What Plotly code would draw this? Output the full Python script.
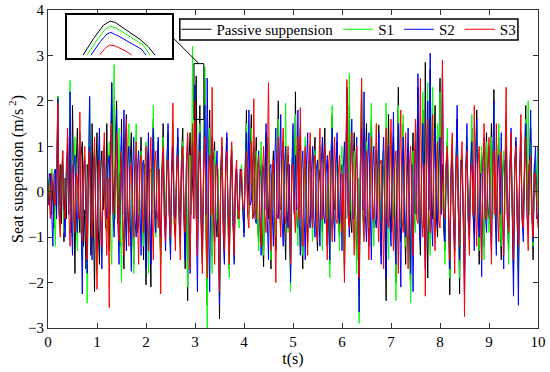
import plotly.graph_objects as go

DT = 0.025  # sampling step of the traces (s)

passive = [
    0.1, -0.3, 0.4, -0.5, 0.2, -0.8, 0.5, -0.4, 2.1, -0.3, 0.6, -0.7, 0.9, -1.1, 0.3, -0.6, 1.2, -0.2, 0.7, -0.9,
    1.9, -0.5, -1.8, 0.6, 1.4, -0.3, -0.9, 0.8, 1.1, -1.2, -0.4, -1.7, 0.6, 0.2, 1.0, -1.4, 1.5, -0.6, -2.2, 0.4,
    1.3, -0.8, -1.6, 0.5, 0.9, -0.4, 0.3, -0.8, 1.5, -0.6, -1.3, 0.7, 2.4, 0.3, -0.5, 1.1, 2.0, -0.7, 0.4, -1.2,
    1.6, -0.8, -1.7, 0.9, 1.7, -0.3, -0.9, 0.6, 1.3, -0.5, -1.6, 0.4, 0.8, -0.9, -0.7, 0.5, 1.2, -0.3, -1.5, 0.6,
    -2.05, 0.3, 0.9, -0.6, -2.1, 0.7, 1.6, -0.4, -0.6, 0.5, 1.1, -0.8, -1.4, 0.3, 1.5, -0.2, -0.8, 0.6, 1.3, -0.5,
    -1.2, 0.4, 0.7, -0.7, -1.0, 0.5, 1.2, -0.3, -0.5, 0.8, 1.4, -0.6, -1.7, 0.2, -2.4, 0.6, 1.3, -0.4, 0.2, 0.9,
    1.8, 2.55, -0.6, 0.4, 1.9, -0.8, -1.6, 0.3, 2.5, -0.9, -2.5, 0.6, 1.8, -0.5, -1.4, 0.7, 1.1, -0.6, -1.0, 0.4,
    -2.8, 0.2, 0.8, -0.9, -1.5, 0.4, 1.2, -0.8, -1.7, 0.3, 0.6, -0.7, -1.2, 0.2, 0.4, -0.6, -0.5, 0.5, 0.3, -0.4,
    -0.9, 0.6, 1.8, -0.3, 0.2, 0.9, 1.7, -0.6, -0.5, 0.4, 1.2, -0.7, -1.1, 0.3, 0.6, -0.9, -1.65, 0.5, 1.3, -0.2,
    -0.6, 0.4, -1.7, 0.3, 0.9, -0.5, -1.3, 0.6, 2.0, -0.3, -0.4, 0.8, 1.1, -0.6, -1.5, 0.3, 0.8, -0.7, -1.8, 0.5,
    0.9, -0.4, 2.2, -0.6, -0.8, 0.5, 1.4, -0.9, -1.7, 0.3, 0.7, -0.5, -1.1, 0.4, 1.0, -0.3, -0.6, 0.8, 1.2, -0.7,
    -1.3, 0.2, 0.5, -0.6, -0.9, 0.7, 1.4, -0.5, -1.2, 0.3, -1.6, 0.8, 1.7, -0.2, -0.4, 0.6, 1.1, -0.7, -1.0, 0.4,
    0.6, -0.5, -1.8, 0.4, 2.3, -0.3, 1.9, -0.6, -0.9, 0.5, 1.3, -0.4, -1.5, 0.3, -2.3, 0.6, 2.2, -0.5, -0.7, 0.6,
    1.5, -0.4, -1.2, 0.5, 1.6, -0.3, -0.8, 0.4, 0.9, -0.6, 1.47, -0.2, -1.4, 0.5, 0.6, -0.5, -2.4, 0.4, 1.7, -0.3,
    -0.9, 0.6, 1.2, -0.5, -2.0, 0.4, 2.3, -0.4, -1.1, 0.6, 1.5, -0.6, -1.6, 0.3, 0.8, -0.7, -2.2, 0.5, 1.3, -0.4,
    -0.5, 0.7, 2.3, -0.6, -1.4, 0.5, 1.8, -0.8, 2.85, -0.4, -1.9, 0.6, 2.7, -0.3, -0.6, 0.9, 1.9, -0.5, -1.0, 0.6,
    2.5, -0.3, 0.6, -0.8, -1.3, 0.4, 1.1, -0.6, -2.27, 0.3, 0.9, -0.5, -1.1, 0.6, 1.6, -0.4, -2.25, 0.7, 0.5, -0.6,
    -1.8, 0.4, 1.0, -0.3, -0.7, 0.5, 1.4, -0.5, -0.9, 0.6, 1.8, -0.4, -1.6, 0.3, 0.8, -0.6, -1.2, 0.5, 1.3, -0.3,
    -0.6, 0.4, 1.5, -0.5, 2.25, -0.4, -0.9, 0.6, 1.2, -0.5, -1.5, 0.3, 0.7, 0.4, 1.6, -0.6, -1.3, 0.5, 0.9, -0.4,
    -1.8, 0.5, 1.1, -0.6, -1.7, 0.4, 0.8, -0.5, -0.6, 0.7, 1.9, -0.2, 0.6, -0.5, 1.4, -0.4, -1.5, 0.6, 0.4, -0.3,
    1.0,
]

s1 = [
    0.0, 0.3, -0.2, 0.5, 0.4, -0.6, -1.2, 0.3, 2.1, -0.5, -0.3, 0.6, 0.5, -0.9, -0.8, 0.4, 0.7, -0.3, 2.45, -0.4,
    -1.0, 0.5, 1.2, -0.6, -1.3, 0.3, 0.9, -0.8, -1.5, 0.4, 0.8, -0.5, -2.45, 0.6, 2.05, -0.4, -1.1, 0.5, 1.0, -0.7,
    -1.8, 0.4, 1.2, -0.5, -1.4, 0.6, 0.6, -0.4, -0.9, 0.5, 1.1, -0.8, -1.6, 0.3, 2.8, -0.6, 0.5, -0.3, 1.4, -0.7,
    -2.0, 0.5, 1.2, -0.4, -1.1, 0.6, 1.5, -0.8, -1.3, 0.4, -1.8, 0.6, 1.5, -0.3, -0.5, 0.5, 0.9, -0.6, -1.2, 0.3,
    1.1, -0.6, -1.8, 0.4, 0.5, -0.5, 1.9, -0.7, -1.0, 0.4, 0.8, -0.5, -1.6, 0.6, 1.2, -0.3, -0.5, 0.6, 1.0, -0.4,
    -1.4, 0.5, 1.5, -0.6, -0.7, 0.4, 0.9, -0.5, -1.2, 0.6, 1.1, -0.4, -0.6, 0.5, -2.1, 0.4, 0.8, -0.5, 3.2, 0.6,
    2.3, -0.5, -1.1, 0.6, 1.5, -0.4, -0.9, 0.5, 2.75, -0.8, -3.0, 0.5, 1.4, -0.6, -1.8, 0.4, 0.9, -0.5, -0.6, 0.5,
    -2.4, 0.4, 1.1, -0.6, -1.2, 0.5, 0.8, -0.7, -1.9, 0.4, 1.0, -0.5, -1.5, 0.3, 0.3, -0.4, -0.8, 0.4, 0.6, -0.3,
    -0.5, 0.4, 1.5, -0.6, -0.4, 0.5, 1.4, -0.3, 0.3, -0.5, 0.9, -0.6, -1.3, 0.4, 1.1, -0.5, -1.4, 0.6, 0.7, -0.4,
    1.2, -0.5, -1.5, 0.4, 0.4, -0.6, -1.0, 0.5, 1.6, -0.4, -0.8, 0.6, 0.7, -0.5, 1.95, -0.3, -0.9, 0.5, -2.2, 0.4,
    1.3, -0.4, 1.7, -0.6, -1.2, 0.5, 0.9, -0.7, -1.4, 0.4, 1.2, -0.5, -0.7, 0.6, 0.6, -0.4, -1.1, 0.5, 0.9, -0.6,
    -0.9, 0.4, 1.0, -0.5, -1.3, 0.6, 0.8, -0.4, -0.6, 0.5, -1.9, 0.3, 1.9, -0.6, -0.8, 0.4, 0.7, -0.5, -1.3, 0.6,
    1.0, -0.5, -1.5, 0.4, 1.8, -0.6, 2.6, -0.4, -0.5, 0.6, 0.9, -0.5, -1.8, 0.3, -2.9, 0.5, 2.5, -0.6, -1.0, 0.4,
    1.1, -0.5, -0.8, 0.6, 1.95, -0.4, -1.2, 0.5, 0.6, -0.6, 1.1, -0.3, -1.0, 0.4, 0.9, -0.5, 1.95, -0.4, -1.5, 0.5,
    1.3, -0.4, -0.6, 0.5, -2.4, 0.3, 1.9, -0.6, -0.8, 0.5, 1.7, -0.4, -1.2, 0.6, 1.0, -0.5, -2.45, 0.4, 0.9, -0.6,
    -0.9, 0.5, 2.0, -0.4, -1.0, 0.6, 2.2, -0.5, -1.5, 0.3, 2.4, -0.6, -1.4, 0.5, 2.3, -0.4, -0.9, 0.6, 1.5, -0.5,
    2.2, -0.4, -0.4, 0.5, -1.6, 0.6, 1.4, -0.5, -1.9, 0.4, 1.2, -0.6, -1.4, 0.5, 1.3, -0.3, -1.9, 0.6, 0.8, -0.5,
    -1.5, 0.4, 1.2, -0.6, -1.0, 0.5, 1.7, -0.4, -0.6, 0.5, 1.5, -0.6, -1.3, 0.4, 1.0, -0.5, -1.5, 0.6, 1.1, -0.4,
    -0.9, 0.5, 1.2, -0.6, 1.9, -0.4, -1.2, 0.5, 1.5, -0.6, -1.2, 0.4, 0.9, -0.5, 1.3, -0.3, -1.6, 0.5, 1.2, -0.4,
    -1.5, 0.6, 0.8, -0.5, -2.0, 0.4, 1.0, -0.6, -0.9, 0.5, 1.6, -0.4, 2.0, -0.5, 1.1, -0.4, -1.2, 0.5, 0.7, -0.4,
    0.9,
]

s2 = [
    -0.3, 0.4, 0.3, -0.5, -1.2, 0.4, 0.5, -0.6, 2.05, -0.4, -0.8, 0.5, 0.6, -0.3, -1.0, 0.6, 0.9, -0.5, 2.2, -0.6,
    -1.4, 0.5, 0.8, -0.4, -0.9, 0.6, 1.3, -0.5, -2.25, 0.4, 0.7, -0.6, -1.8, 0.3, 2.1, -0.4, -1.5, 0.6, 0.8, -0.5,
    -1.3, 0.4, 1.4, -0.6, -1.7, 0.5, 1.0, -0.3, -0.6, 0.6, 0.8, -0.5, 2.4, -0.4, -1.0, 0.5, 1.8, -0.6, -1.6, 0.4,
    1.3, -0.5, 1.8, -0.4, -1.3, 0.6, 1.0, -0.5, -1.75, 0.4, 1.2, -0.6, -1.0, 0.5, 0.9, -0.3, -1.4, 0.6, 0.7, -0.5,
    -1.7, 0.4, 1.3, -0.6, -1.6, 0.5, 1.4, -0.4, -0.9, 0.6, 1.2, -0.5, -1.0, 0.4, 0.9, -0.6, -1.3, 0.5, 1.5, -0.4,
    -1.5, 0.6, 1.0, -0.5, -0.6, 0.4, 1.4, -0.6, -1.1, 0.5, 0.8, -0.4, -1.5, 0.6, 1.2, -0.5, -1.8, 0.4, 1.1, -0.6,
    2.35, -0.4, -2.2, 0.5, 1.3, -0.6, -1.2, 0.4, 1.9, -0.5, 2.5, -0.4, -2.2, 0.6, 1.2, -0.5, -1.1, 0.4, 0.9, -0.6,
    -2.5, 0.5, 1.0, -0.4, -1.6, 0.6, 1.3, -0.5, -1.4, 0.4, 0.9, -0.6, -1.6, 0.3, 0.5, -0.4, -0.4, 0.5, 0.2, -0.3,
    -1.0, 0.4, 1.3, -0.5, 1.8, -0.3, -0.2, 0.5, 1.0, -0.6, -0.7, 0.4, 0.9, -0.5, -1.4, 0.6, 0.5, -0.4, 1.5, -0.6,
    -1.5, 0.5, 0.6, -0.4, -1.2, 0.6, 1.4, -0.5, -0.6, 0.4, 1.7, -0.6, -1.2, 0.5, 1.0, -0.4, -0.8, 0.6, -2.0, 0.4,
    1.5, -0.5, 0.8, -0.4, 1.8, -0.6, -1.4, 0.5, 0.9, -0.4, -1.5, 0.6, 1.3, -0.5, -0.8, 0.4, 1.0, -0.6, -1.0, 0.5,
    0.7, -0.4, -1.2, 0.6, 1.2, -0.5, -0.7, 0.4, 0.8, -0.6, -1.5, 0.5, 1.4, -0.4, -1.1, 0.6, 1.3, -0.5, -0.7, 0.4,
    -1.3, 0.5, 1.1, -0.6, 2.2, -0.4, -1.0, 0.5, 1.6, -0.6, -0.6, 0.4, 1.2, -0.5, -2.65, 0.6, 1.4, -0.4, 2.2, -0.5,
    -1.1, 0.6, 1.3, -0.4, -1.5, 0.5, 1.0, -0.6, -0.8, 0.4, 1.3, -0.5, -1.6, 0.6, 1.2, -0.4, -1.9, 0.5, 1.0, -0.6,
    -1.2, 0.4, 1.75, -0.5, -1.6, 0.6, 1.5, -0.4, -2.1, 0.5, 1.2, -0.6, -1.0, 0.4, 1.4, -0.5, -1.8, 0.6, -2.2, 0.4,
    1.1, -0.5, 2.6, -0.6, -1.2, 0.4, 1.5, -0.5, -1.7, 0.6, 2.0, -0.4, 3.05, -0.6, -1.2, 0.5, 1.4, -0.4, -0.8, 0.6,
    1.2, -0.5, 2.75, -0.4, -1.1, 0.6, 0.9, -0.5, -1.7, 0.4, 1.0, -0.6, -1.3, 0.5, 1.9, -0.4, -1.5, 0.6, 0.7, -0.5,
    -2.3, 0.4, 1.5, -0.6, -1.0, 0.5, 1.1, -0.4, -1.3, 0.6, 1.6, -0.5, -1.0, 0.4, -1.87, 0.6, 1.2, -0.5, -0.9, 0.4,
    1.0, -0.6, -1.3, 0.5, 2.0, -0.4, -1.4, 0.6, 0.8, -0.5, 1.3, -0.4, -1.7, 0.5, 1.0, -0.6, -0.9, 0.4, 1.4, -0.5,
    -2.3, 0.6, 1.2, -0.4, -2.5, 0.5, 1.3, -0.6, -1.1, 0.4, 1.5, -0.5, -0.8, 0.6, 1.8, -0.4, -1.1, 0.5, 1.0, -0.6,
    -0.5,
]

s3 = [
    0.2, -0.3, -0.6, 0.4, 0.1, -0.2, -0.3, 0.5, 1.95, -0.5, -1.0, 0.4, 0.9, -0.3, -0.6, 0.5, 1.4, -0.4, -1.2, 0.3,
    0.6, -0.5, -0.9, 0.4, 0.3, -0.6, 1.75, -0.4, -1.1, 0.5, 1.0, -0.3, -1.5, 0.6, 0.9, -0.5, -1.0, 0.4, 1.2, -0.6,
    -2.15, 0.5, 0.7, -0.4, -1.2, 0.6, 1.3, -0.5, -1.4, 0.3, -2.55, 0.6, 1.5, -0.4, -0.5, 0.5, 1.3, -0.6, -1.1, 0.4,
    0.9, -0.5, -1.4, 0.6, 1.6, -0.4, -1.2, 0.5, 0.6, -0.3, -1.0, 0.4, 1.1, -0.5, -1.6, 0.6, 0.8, -0.4, -0.9, 0.5,
    1.0, -0.6, -1.3, 0.4, 1.2, -0.5, -1.5, 0.6, 0.9, -0.4, -0.8, 0.5, -2.25, 0.3, 1.0, -0.6, -1.1, 0.4, 0.7, -0.5,
    -1.0, 0.6, 1.95, -0.4, -1.3, 0.5, 0.8, -0.6, -1.5, 0.4, 1.0, -0.5, -0.9, 0.6, 1.3, -0.4, -1.7, 0.5, 1.5, -0.6,
    2.0, -0.5, -1.4, 0.6, 0.9, -0.4, -1.8, 0.5, 1.2, -0.6, -1.9, 0.4, 0.8, -0.5, 2.3, -0.4, -1.6, 0.6, 0.6, -0.5,
    -2.2, 0.4, 1.2, -0.6, -1.3, 0.5, 0.9, -0.4, -1.6, 0.6, 1.1, -0.5, -1.4, 0.4, 0.7, -0.3, -0.6, 0.4, 0.5, -0.3,
    -0.4, 0.3, 0.9, -0.5, -0.8, 0.4, 1.1, -0.6, 2.05, -0.4, -0.6, 0.5, 0.8, -0.6, -1.2, 0.4, 1.0, -0.5, -0.9, 0.6,
    2.4, -0.5, -1.3, 0.4, 0.7, -0.6, -2.0, 0.5, 1.2, -0.4, -1.0, 0.6, 1.4, -0.5, -0.7, 0.4, 1.0, -0.6, -1.6, 0.5,
    0.6, -0.4, -0.9, 0.5, 1.2, -0.6, 1.85, -0.4, -1.2, 0.5, 1.0, -0.6, -1.4, 0.4, 1.3, -0.5, -0.8, 0.6, 0.8, -0.4,
    -1.1, 0.5, 1.4, -0.6, -0.6, 0.4, 1.0, -0.5, -1.5, 0.6, 0.9, -0.4, -1.1, 0.5, 1.2, -0.6, -0.7, 0.4, 0.8, -0.5,
    -0.9, 0.4, -2.0, 0.3, 2.47, -0.5, -0.8, 0.6, 1.3, -0.4, -1.4, 0.5, 1.0, -0.6, -1.9, 0.4, 2.5, -0.5, -1.1, 0.6,
    0.9, -0.4, -1.5, 0.5, 1.2, -0.6, -0.6, 0.4, 1.5, -0.5, -1.1, 0.6, 0.7, -0.4, -1.7, 0.5, 1.4, -0.6, -0.8, 0.4,
    1.6, -0.5, -1.3, 0.6, 0.9, -0.4, -1.8, 0.5, 1.8, -0.6, -0.9, 0.4, 1.3, -0.5, -1.7, 0.6, 1.0, -0.4, -1.4, 0.5,
    1.6, -0.6, -0.7, 0.4, 2.5, -0.5, -1.0, 0.6, -2.3, 0.4, 1.6, -0.5, -0.9, 0.6, 1.7, -0.4, -1.3, 0.5, 1.1, -0.6,
    -0.8, 0.4, 2.9, -0.5, -0.6, 0.6, 1.0, -0.4, -1.5, 0.5, 1.3, -0.6, -1.8, 0.4, 0.8, -0.5, -1.2, 0.6, 1.1, -0.4,
    -2.75, 0.5, 0.9, -0.6, -1.4, 0.4, 0.6, -0.5, 1.9, -0.4, -1.2, 0.6, 1.0, -0.5, -1.5, 0.4, 1.5, -0.6, -0.6, 0.5,
    1.2, -0.4, -1.6, 0.6, 0.9, -0.5, 1.5, -0.4, -1.1, 0.6, 0.9, -0.5, -1.4, 0.4, 2.3, -0.6, -0.9, 0.5, 1.3, -0.4,
    -1.5, 0.6, 1.0, -0.5, -1.2, 0.4, 1.7, -0.6, -0.8, 0.5, 1.2, -0.4, -1.3, 0.6, 0.8, -0.5, -1.0, 0.4, 0.4, -0.3,
    -0.8,
]

# magnified peak shown in the inset (around t = 3.03 s)
inset_t_passive = [3.0052, 3.0153, 3.0248, 3.0311, 3.0358, 3.0469, 3.0595, 3.0674, 3.0737]
inset_passive = [2.2758, 2.4192, 2.5340, 2.5684, 2.5569, 2.4909, 2.4106, 2.3475, 2.2758]
inset_t_s1 = [3.0090, 3.0184, 3.0263, 3.0311, 3.0374, 3.0500, 3.0627, 3.0690]
inset_s1 = [2.2758, 2.4049, 2.4967, 2.5254, 2.5053, 2.4336, 2.3619, 2.2758]
inset_t_s2 = [3.0128, 3.0216, 3.0279, 3.0317, 3.0390, 3.0516, 3.0611, 3.0652]
inset_s2 = [2.2758, 2.3906, 2.4565, 2.4709, 2.4393, 2.3762, 2.3246, 2.2758]
inset_t_s3 = [3.0210, 3.0263, 3.0304, 3.0358, 3.0453, 3.0516]
inset_s3 = [2.2758, 2.3332, 2.3619, 2.3533, 2.3131, 2.2758]

names = ["Passive suppension", "S1", "S2", "S3"]
colors = ["#000000", "#00ff00", "#0000ff", "#ff0000"]
series = [passive, s1, s2, s3]
insets = [(inset_t_passive, inset_passive), (inset_t_s1, inset_s1),
          (inset_t_s2, inset_s2), (inset_t_s3, inset_s3)]

FONT = "Liberation Serif"
fig = go.Figure()
for name, col, ys in zip(names, colors, series):
    tt = [round(i * DT, 3) for i in range(len(ys))]
    fig.add_trace(go.Scatter(x=tt, y=ys, mode="lines", name=name,
                             line=dict(color=col, width=1)))
for (xi, yi), col in zip(insets, colors):
    fig.add_trace(go.Scatter(x=xi, y=yi, mode="lines", showlegend=False,
                             line=dict(color=col, width=1), xaxis="x2", yaxis="y2"))

axis_common = dict(showline=True, linecolor="#333333", linewidth=1, mirror="ticks",
                   ticks="inside", ticklen=5, tickcolor="#333333", showgrid=False,
                   zeroline=False, automargin=False, ticklabeloverflow="allow",
                   tickfont=dict(family=FONT, size=15, color="#000000"))

fig.update_layout(
    width=550, height=372,
    margin=dict(l=48, r=12, t=10, b=44),
    paper_bgcolor="white", plot_bgcolor="white",
    font=dict(family=FONT, size=15, color="#000000"),
    showlegend=True,
    legend=dict(orientation="h", x=0.262, y=0.9387, xanchor="left", yanchor="middle",
                bgcolor="rgba(0,0,0,0)", borderwidth=0,
                font=dict(family=FONT, size=15), itemwidth=30, tracegroupgap=0),
    xaxis=dict(range=[0, 10], dtick=1, tick0=0,
               title=dict(text="t(s)", standoff=2, font=dict(family=FONT, size=16)),
               **axis_common),
    yaxis=dict(range=[-3, 4], dtick=1, tick0=-3,
               title=dict(text="Seat suspension (m/s<sup> 2</sup>)", standoff=0,
                          font=dict(family=FONT, size=16)),
               **axis_common),
    xaxis2=dict(domain=[0.039, 0.253], anchor="y2", range=[2.99, 3.09],
                showline=True, mirror=True, linecolor="#000000", linewidth=1.5,
                showticklabels=False, ticks="", showgrid=False, zeroline=False),
    yaxis2=dict(domain=[0.849, 0.984], anchor="x2", range=[2.25, 2.62],
                showline=True, mirror=True, linecolor="#000000", linewidth=1.5,
                showticklabels=False, ticks="", showgrid=False, zeroline=False),
    shapes=[
        dict(type="rect", xref="x", yref="y", x0=2.98, x1=3.18, y0=1.59, y1=2.82,
             line=dict(color="#000000", width=1)),
        dict(type="line", xref="x", yref="y", x0=2.53, y0=3.41, x1=3.08, y1=2.82,
             line=dict(color="#000000", width=1)),
        # legend frame
        dict(type="rect", xref="paper", yref="paper", x0=0.269, x1=0.959, y0=0.906, y1=0.972,
             fillcolor="white", line=dict(color="#000000", width=1.5), layer="above"),
    ],
)

# remove the browser's default 8 px body margin so the figure fills the window
fig.write_html("out.html", config={"displayModeBar": False},
               post_script="document.body.style.margin='0';")
